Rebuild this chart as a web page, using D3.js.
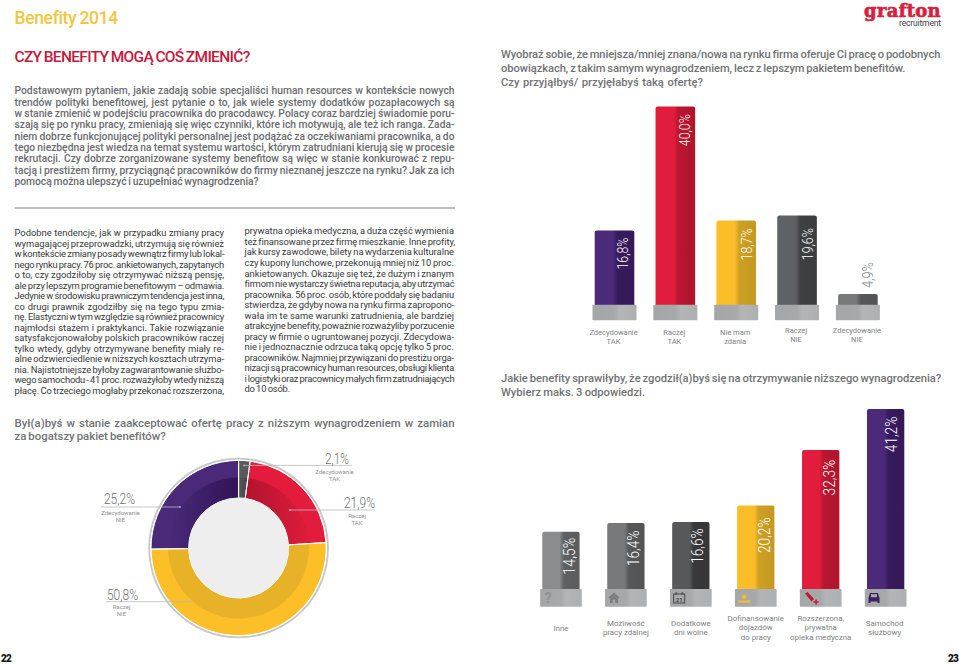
<!DOCTYPE html>
<html><head><meta charset="utf-8">
<script src="https://cdn.jsdelivr.net/npm/d3@7"></script>
<style>html,body{margin:0;padding:0;background:#fff}svg{display:block}text{font-family:Roboto,sans-serif}</style>
</head><body><svg id="c" width="959" height="664"></svg>
<script>
const donutLabels=["Zdecydowanie|TAK","Raczej|TAK","Raczej|NIE","Zdecydowanie|NIE"];
const donutValues=[2.1,21.9,50.8,25.2];
const offerCategories=["Zdecydowanie|TAK","Raczej|TAK","Nie mam|zdania","Raczej|NIE","Zdecydowanie|NIE"];
const offerValues=[16.8,40.0,18.7,19.6,4.9];
const benefitCategories=["Inne","Możliwość|pracy zdalnej","Dodatkowe|dni wolne","Dofinansowanie|dojazdów|do pracy","Rozszerzona,|prywatna|opieka medyczna","Samochód|służbowy"];
const benefitValues=[14.5,16.4,16.6,20.2,32.3,41.2];
const introLines=["Podstawowym pytaniem, jakie zadają sobie specjaliści human resources w kontekście nowych","trendów polityki benefitowej, jest pytanie o to, jak wiele systemy dodatków pozapłacowych są","w stanie zmienić w podejściu pracownika do pracodawcy. Polacy coraz bardziej świadomie poru-","szają się po rynku pracy, zmieniają się więc czynniki, które ich motywują, ale też ich ranga. Zada-","niem dobrze funkcjonującej polityki personalnej jest podążać za oczekiwaniami pracownika, a do","tego niezbędna jest wiedza na temat systemu wartości, którym zatrudniani kierują się w procesie","rekrutacji. Czy dobrze zorganizowane systemy benefitow są więc w stanie konkurować z repu-","tacją i prestiżem firmy, przyciągnąć pracowników do firmy nieznanej jeszcze na rynku? Jak za ich","pomocą można ulepszyć i uzupełniać wynagrodzenia?"];
const col1Lines=["Podobne tendencje, jak w przypadku zmiany pracy","wymagającej przeprowadzki, utrzymują się również","w kontekście zmiany posady wewnątrz firmy lub lokal-","nego rynku pracy. 76 proc. ankietowanych, zapytanych","o to, czy zgodziłoby się otrzymywać niższą pensję,","ale przy lepszym programie benefitowym – odmawia.","Jedynie w środowisku prawniczym tendencja jest inna,","co drugi prawnik zgodziłby się na tego typu zmia-","nę. Elastyczni w tym względzie są również pracownicy","najmłodsi stażem i praktykanci. Takie rozwiązanie","satysfakcjonowałoby polskich pracowników raczej","tylko wtedy, gdyby otrzymywane benefity miały re-","alne odzwierciedlenie w niższych kosztach utrzyma-","nia. Najistotniejsze byłoby zagwarantowanie służbo-","wego samochodu - 41 proc. rozważyłoby wtedy niższą","płacę. Co trzeciego mogłaby przekonać rozszerzona,"];
const col2Lines=["prywatna opieka medyczna, a duża część wymienia","też finansowane przez firmę mieszkanie. Inne profity,","jak kursy zawodowe, bilety na wydarzenia kulturalne","czy kupony lunchowe, przekonują mniej niż 10 proc.","ankietowanych. Okazuje się też, że dużym i znanym","firmom nie wystarczy świetna reputacja, aby utrzymać","pracownika. 56 proc. osób, które poddały się badaniu","stwierdza, że gdyby nowa na rynku firma zapropono-","wała im te same warunki zatrudnienia, ale bardziej","atrakcyjne benefity, poważnie rozważyliby porzucenie","pracy w firmie o ugruntowanej pozycji. Zdecydowa-","nie i jednoznacznie odrzuca taką opcję tylko 5 proc.","pracowników. Najmniej przywiązani do prestiżu orga-","nizacji są pracownicy human resources, obsługi klienta","i logistyki oraz pracownicy małych firm zatrudniających","do 10 osób."];

const svg=d3.select("#c"), defs=svg.append("defs");
function fmt(v){return d3.format(".1f")(v).replace(".",",")+"%";}
function txt(s,x,y,size,fill,weight,anchor){
  return svg.append("text").attr("x",x).attr("y",y).attr("font-size",size).attr("fill",fill)
    .attr("font-weight",weight||400).attr("text-anchor",anchor||"start").text(s);
}
function fit(s,x,y,size,fill,weight,w,family){
  const t=txt(s,x,y,size,fill,weight);
  if(family) t.style("font-family",family);
  const n=(s.match(/ /g)||[]).length;
  const extra=w-t.node().getComputedTextLength();
  const wordPart=n? Math.max(Math.min(extra,n*2.5),-n*0.8):0;
  if(n) t.attr("word-spacing",wordPart/n);
  t.attr("letter-spacing",(extra-wordPart)/s.length);
  return t;
}
function hgrad(id,stops){
  const g=defs.append("linearGradient").attr("id",id).attr("x1",0).attr("x2",1).attr("y1",0).attr("y2",0);
  stops.forEach(s=>g.append("stop").attr("offset",s[0]).attr("stop-color",s[1]));
}
function split(id,a,b){hgrad(id,[[0,a],[.46,a],[.58,b],[1,d3.color(b).darker(.12).formatHex()]]);}

/* page texts */
fit("Benefity 2014",14.5,24.3,17.5,"#f3c63f",500,103);
fit("CZY BENEFITY MOGĄ COŚ ZMIENIĆ?",14.5,62,15.5,"#c5183c",500,235);
const introWidths=introLines.map(()=>440);introWidths[8]=244;
introLines.forEach((l,i)=>fit(l,14.5,94.3+i*11.35,10.3,"#6b6c6f",500,introWidths[i]));
svg.append("rect").attr("x",14.5).attr("y",207.2).attr("width",440.5).attr("height",1.6).attr("fill","#aeafb0");
col1Lines.forEach((l,i)=>fit(l,14.5,236+i*10.53,9.4,"#37383a",400,209.5));
col2Lines.forEach((l,i)=>fit(l,244.5,234.4+i*10.53,9.4,"#37383a",400,i==15?45.5:209.5));
const q="#717275";
fit("Był(a)byś w stanie zaakceptować ofertę pracy z niższym wynagrodzeniem w zamian",14.5,426.7,11.4,q,500,440);
fit("za bogatszy pakiet benefitów?",14.5,440.2,11.4,q,500,151);
fit("Wyobraź sobie, że mniejsza/mniej znana/nowa na rynku firma oferuje Ci pracę o podobnych",501,58.3,11.2,q,500,439);
fit("obowiązkach, z takim samym wynagrodzeniem, lecz z lepszym pakietem benefitów.",501,72.3,11.2,q,500,404);
fit("Czy przyjąłbyś/ przyjęłabyś taką ofertę?",501,86.3,11.2,q,500,202);
fit("Jakie benefity sprawiłyby, że zgodził(a)byś się na otrzymywanie niższego wynagrodzenia?",501,382,11.2,q,500,440);
fit("Wybierz maks. 3 odpowiedzi.",501,396,11.2,q,500,144);
fit("22",1,662,10,"#111",900,10);
fit("23",948,662,10,"#111",900,10);
/* logo */
fit("grafton",864,17,18,"#d71f3e",700,77,"DejaVu Serif").attr("stroke","#d71f3e").attr("stroke-width",.7);
fit("recruitment",899,25.5,8.6,"#444",400,42);

/* gradients */
split("gPurple","#4b2a7a","#371a5c");
split("gRed","#e21d3c","#b8162f");
split("gYellow","#fcbe28","#cda024");
split("gDark","#5f6264","#3f4042");
split("gMid","#78797b","#565759");
split("gGrey","#8b8c8e","#5f6062");
split("gDarker","#57585a","#38383a");
hgrad("gBase",[[0,"#a5a6a8"],[.5,"#a7a8aa"],[.62,"#b4b5b6"],[1,"#aeafb0"]]);

function barChart(cats,vals,fills,x0,x1,pad,yTop,yZero,domMax,baseTop,baseBot,fs,insets,valXInset,lbl,labelY,outside,lens){
  const x=d3.scaleBand().domain(cats).range([x0,x1]).paddingInner(pad).paddingOuter(0);
  const y=d3.scaleLinear().domain([0,domMax]).range([yZero,yTop]);
  const g=svg.append("g");
  g.selectAll("rect.bar").data(cats).join("rect").attr("class","bar")
    .attr("x",d=>x(d)).attr("width",x.bandwidth())
    .attr("y",(d,i)=>y(vals[i])).attr("height",(d,i)=>baseTop+3-y(vals[i]))
    .attr("rx",2).attr("fill",(d,i)=>`url(#${fills[i]})`);
  g.selectAll("rect.base").data(cats).join("rect").attr("class","base")
    .attr("x",d=>x(d)-2.2).attr("width",x.bandwidth()+4.4)
    .attr("y",baseTop).attr("height",baseBot-baseTop).attr("rx",.8).attr("fill","url(#gBase)");
  g.selectAll("text.val").data(cats).join("text").attr("class","val")
    .attr("transform",(d,i)=>{
      const top=outside[i]? y(vals[i])-32 : y(vals[i])+insets[i];
      return `translate(${x(d)+x.bandwidth()-valXInset[i]},${top}) rotate(-90)`;})
    .attr("text-anchor","end").attr("font-size",fs).attr("font-weight",300)
    .attr("fill",(d,i)=>outside[i]?"#808285":"#fff")
    .attr("textLength",(d,i)=>lens[i]).attr("lengthAdjust","spacingAndGlyphs")
    .text((d,i)=>fmt(vals[i]));
  cats.forEach((c,i)=>{
    c.split("|").forEach((s,j)=>{
      txt(s,x(c)+x.bandwidth()/2+lbl.dx[i],labelY[i]+j*lbl.lead,lbl.size,"#808285",400,"middle");
    });
  });
  return x;
}
barChart(offerCategories,offerValues,["gPurple","gRed","gYellow","gDark","gMid"],594.7,877.7,.349,106.6,320.3,40,304.7,320.3,15.5,
  [7,7.6,8,12.6,0],[6.7,5.3,3.7,4,5],{size:7.5,lead:9.4,dx:[-1,-1,-1,-1,-1]},[334.5,334.5,335,332.7,332.7],[false,false,false,false,true],[32,32,32,32,26]);
const bx=barChart(benefitCategories,benefitValues,["gGrey","gMid","gDarker","gYellow","gRed","gPurple"],542.3,904.3,.4255,409,598.3,41.2,589,606.7,17,
  [6,7.7,6.3,12,10,7.7],[4.7,5.6,6,4.6,4.3,7.6],{size:7.9,lead:9.5,dx:[0,0,0,0,0,-1]},[630.7,625.7,625.7,620.7,620.7,625.7],[false,false,false,false,false,false],[37,35.5,35.5,35.5,35.5,35.5]);

/* icons on the bottom chart's plinths */
const ic=(i,dx)=>svg.append("g").attr("transform",`translate(${bx(benefitCategories[i])+dx},598)`);
ic(0,6).append("text").attr("text-anchor","middle").attr("y",5).attr("font-size",14).attr("font-weight",700).attr("fill","#8f9092").text("?");
ic(1,6.7).append("path").attr("d","M-6,0L0,-5.5L6,0H4V5H1.2V1.5H-1.2V5H-4V0Z").attr("fill","#7d7e80");
const cal=ic(2,7);
cal.append("rect").attr("x",-5.5).attr("y",-4).attr("width",11).attr("height",9).attr("fill","#a9aaab").attr("stroke","#444").attr("stroke-width",1);
cal.append("path").attr("d","M-3,-6V-3M3,-6V-3").attr("stroke","#444").attr("stroke-width",1);
cal.append("text").attr("text-anchor","middle").attr("y",3.5).attr("font-size",6).attr("font-weight",700).attr("fill","#444").text("21");
const crown=ic(3,7);
crown.append("path").attr("d","M-6,2.5H6V4.5H-6Z").attr("fill","#fcbe28");
crown.append("circle").attr("cy",-1.2).attr("r",2.2).attr("fill","#fcbe28");
const pill=ic(4,9);
pill.append("path").attr("d","M-6,-4.5L-3.5,-6L3,1L.5,3.5Z").attr("fill","#c01a35");
pill.append("path").attr("d","M2.5,4H7.5M5,1.5V6.5").attr("stroke","#c01a35").attr("stroke-width",1.4);
const car=ic(5,7);
car.append("path").attr("d","M-5.5,0L-4,-5H4L5.5,0V5H3.5V3.5H-3.5V5H-5.5Z").attr("fill","#3d2062");
car.append("rect").attr("x",-3).attr("y",-3.8).attr("width",6).attr("height",3).attr("fill","#a9aaab");

/* donut */
const cx=238.6,cy=548;
const pie=d3.pie().sort(null).startAngle(0).endAngle(2*Math.PI)(donutValues);
const fillsOuter=["#58595b","#e31c3d","#fdbf28","#4a2a78"];
const lin=(id,x1,x2,a,b)=>{const g=defs.append("linearGradient").attr("id",id).attr("gradientUnits","userSpaceOnUse").attr("x1",x1).attr("x2",x2).attr("y1",0).attr("y2",0);
  g.append("stop").attr("offset",0).attr("stop-color",a);g.append("stop").attr("offset",1).attr("stop-color",b);};
lin("dRed",10,70,"#b5142f","#dd1c3b");
lin("dPurple",-70,-5,"#4a2a78","#32155a");
lin("dGrey",-2,12,"#58595b","#3d4245");
const fillsInner=["url(#dGrey)","url(#dRed)","#e7b227","url(#dPurple)"];
const dg=svg.append("g").attr("transform",`translate(${cx},${cy})`);
dg.append("circle").attr("r",89.4).attr("fill","#fff").attr("stroke","#c3c7c8").attr("stroke-width",1.8);
const outer=d3.arc().innerRadius(50).outerRadius(87.6);
const inner=d3.arc().innerRadius(50).outerRadius(70.5);
dg.selectAll("path.o").data(pie).join("path").attr("class","o").attr("d",outer).attr("fill",(d,i)=>fillsOuter[i]);
dg.selectAll("path.i").data(pie).join("path").attr("class","i").attr("d",inner).attr("fill",(d,i)=>fillsInner[i]);
dg.selectAll("path.s").data(pie).join("path").attr("class","s").attr("d",outer).attr("fill","none").attr("stroke","#fff").attr("stroke-width",1);
dg.append("circle").attr("r",50).attr("fill","#eeeeee");
/* donut callouts: [value x, value baseline, width, line y, line x from, line x to, sub x, sub y] */
const callouts=[[325,464,24,465.4,244,352,334.5,473.5],[344,508.3,31,510,290,375,357,517.5],[107,600.3,31,601.7,190.7,105.7,121.5,608.5],[104,504,31,507,180,101,120.5,514.5]];
donutValues.forEach((v,i)=>{
  const c=callouts[i];
  svg.append("line").attr("x1",c[4]).attr("x2",c[5]).attr("y1",c[3]).attr("y2",c[3]).attr("stroke","#b9babb").attr("stroke-width",.8);
  svg.append("circle").attr("cx",c[4]).attr("cy",c[3]).attr("r",.9).attr("fill","#b9babb");
  txt(fmt(v),c[0],c[1],15,"#6d6e71",300).attr("textLength",c[2]).attr("lengthAdjust","spacingAndGlyphs");
  donutLabels[i].split("|").forEach((s,j)=>txt(s,c[6],c[7]+j*7.2,6,"#909194",400,"middle"));
});
</script></body></html>
